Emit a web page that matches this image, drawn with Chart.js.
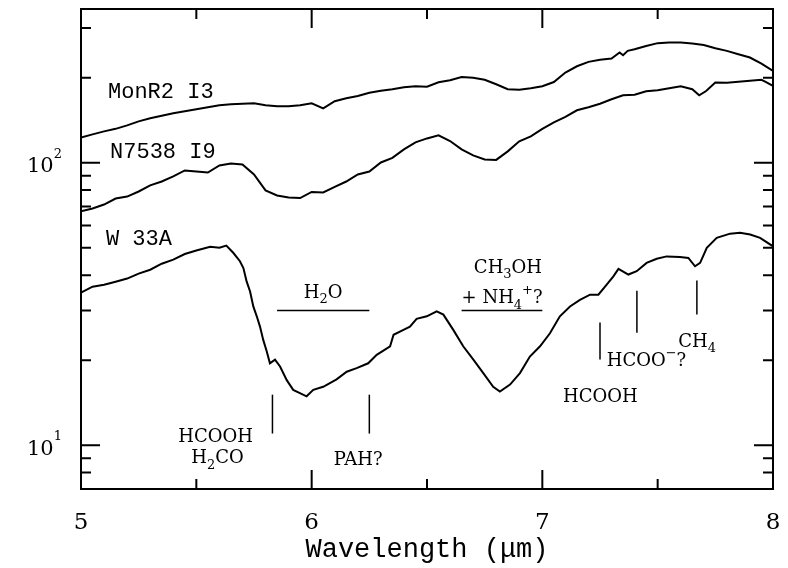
<!DOCTYPE html>
<html><head><meta charset="utf-8">
<script src="https://cdn.jsdelivr.net/npm/chart.js@4/dist/chart.umd.min.js"></script>
<style>html,body{margin:0;padding:0;background:#fff;}canvas{display:block;}</style>
</head><body>
<canvas id="c" width="788" height="568"></canvas>
<script>
// ---- data (wavelength in micron, flux) ----
const monLambda = [5.00,5.05,5.10,5.15,5.20,5.25,5.30,5.35,5.40,5.45,5.50,5.55,5.60,5.65,5.70,5.75,5.80,5.85,5.90,5.95,6.00,6.05,6.10,6.15,6.20,6.25,6.30,6.35,6.40,6.45,6.50,6.55,6.60,6.65,6.70,6.75,6.80,6.85,6.90,6.95,7.00,7.05,7.10,7.15,7.20,7.25,7.30,7.335,7.35,7.37,7.40,7.45,7.50,7.55,7.60,7.65,7.70,7.75,7.80,7.85,7.90,7.95,8.00];
const monFlux = [122.7,126,129.1,131.8,135.6,140.1,143.6,146.6,149.6,152,154.5,157.1,159.7,160.9,161.7,162.3,159.7,158.4,158.4,159.7,162.3,155.8,165,169.1,172.2,176.8,179.7,182,184.9,186.5,185.7,192.6,195.8,201.2,199.8,196.6,189.5,182,181.2,183.5,186.5,193,208.5,219.5,227.5,231.5,233.8,245.5,240.2,248.8,252,259,265,266.4,266.4,264,261,254.3,248.8,242.2,235.7,224.4,211.3];

const n7538Lambda = [5.00,5.05,5.10,5.15,5.20,5.25,5.30,5.35,5.40,5.45,5.50,5.55,5.60,5.65,5.70,5.75,5.80,5.85,5.90,5.95,6.00,6.05,6.10,6.15,6.20,6.25,6.30,6.35,6.40,6.45,6.50,6.55,6.60,6.65,6.70,6.75,6.80,6.85,6.90,6.95,7.00,7.05,7.10,7.15,7.20,7.25,7.30,7.35,7.40,7.45,7.50,7.55,7.60,7.65,7.68,7.71,7.75,7.80,7.85,7.90,7.95,7.97,8.00];
const n7538Flux = [67.3,68.9,71.1,74.7,75.9,79.1,83.1,85.8,89.4,93.9,93.1,92.3,97.8,99.4,98.6,90.9,79.8,76.6,75.3,75.0,78.8,78.5,82.1,85.8,90.9,93.1,100.2,104,111.5,118,121.9,125,119.3,111.5,106.1,102.7,102.3,109.7,119,124,131.8,139,145.4,153.3,157.1,161.7,167.7,173.3,174,179,180.5,183.5,186.5,182,173.3,179.4,192.2,191.9,193.5,195,196.6,193,186.9];

const w33aLambda = [5.00,5.05,5.10,5.15,5.20,5.25,5.30,5.35,5.40,5.45,5.50,5.56,5.60,5.63,5.66,5.689,5.704,5.718,5.733,5.747,5.762,5.776,5.790,5.805,5.819,5.841,5.863,5.892,5.920,5.949,5.978,6.007,6.05,6.108,6.152,6.195,6.245,6.282,6.340,6.355,6.398,6.426,6.455,6.499,6.542,6.571,6.614,6.657,6.701,6.744,6.787,6.816,6.860,6.903,6.946,6.990,7.033,7.076,7.120,7.163,7.207,7.243,7.279,7.308,7.330,7.373,7.409,7.452,7.496,7.539,7.597,7.633,7.662,7.684,7.713,7.756,7.814,7.857,7.901,7.944,8.00];
const w33aFlux = [34.7,36.4,37.0,37.9,38.9,40.5,41.8,43.9,45.4,47.5,48.9,50.4,50.0,50.9,48.0,44.8,42.4,38.0,35.0,31.0,28.6,26.3,23.6,21.5,19.5,20.1,19.0,17.0,15.7,15.3,14.9,15.7,16.1,17.1,18.2,18.75,19.5,20.9,22.4,24.6,25.6,26.3,28.0,28.6,29.8,29.0,25.6,22.4,20.1,18.0,16.1,15.5,16.4,18.0,20.6,22.4,24.9,28.6,31.0,32.7,34.1,34.1,37.0,39.6,42.1,40.2,41.3,44.2,45.7,46.6,46.4,46.0,43.0,44.2,50.0,54.2,56.1,56.5,55.7,54.2,50.6];

// ---- ticks ----
const xMajorTicks = [5, 6, 7, 8];
const xTickLabels = ['5', '6', '7', '8'];
const xMinorTicks = [5.5, 6.5, 7.5];
const yMajorTicks = [10, 100];
const yTickLabels = ['10^1', '10^2'];
const yMinorTicks = [8, 9, 20, 30, 40, 50, 60, 70, 80, 90, 200, 300];

// ---- annotation texts (anchored in data units) ----
const seriesLabels = ['MonR2 I3', 'N7538 I9', 'W 33A'];
const seriesLabelAt = [[5.117, 170], [5.126, 104.2], [5.108, 51.3]];
const featureTexts = ['H_2O', 'CH_3OH', '+ NH_4^+?', 'HCOOH', 'H_2CO', 'PAH?', 'HCOOH', 'HCOO^\u2212?', 'CH_4'];
const featureTextAt = [[6.05, 33.2], [6.851, 40.7], [6.65, 31.8], [5.584, 10.3], [5.592, 8.63], [6.202, 8.51], [7.252, 14.28], [7.279, 19.0], [7.589, 22.3]];
const featureTextAlign = ['center', 'center', 'left', 'center', 'center', 'center', 'center', 'left', 'left'];
const bandBars = [[5.85, 6.25, 30], [6.65, 7.0, 30]];           // horizontal: from, to, flux
const markerLines = [[5.83, 11, 15.1], [6.25, 11, 15.1], [7.25, 20.1, 27.2], [7.41, 25, 35.2], [7.67, 29, 38.3]]; // x, y0, y1

const toXY = (xs, ys) => xs.map((x, i) => ({x: x, y: ys[i]}));

function drawRich(ctx, str, x, y, size, family, align, scriptScale, supRaise) {
  scriptScale = scriptScale || 0.72;
  supRaise = supRaise || 0.5;
  const parts = [];
  for (let i = 0; i < str.length; i++) {
    const c = str[i];
    if (c === '_' || c === '^') { parts.push({t: str[i + 1], mode: c}); i++; }
    else if (parts.length && !parts[parts.length - 1].mode) parts[parts.length - 1].t += c;
    else parts.push({t: c, mode: null});
  }
  const fontFor = m => (m ? Math.round(size * scriptScale) : size) + 'px "' + family + '"';
  let w = 0;
  parts.forEach(p => { ctx.font = fontFor(p.mode); p.w = ctx.measureText(p.t).width; w += p.w; });
  let cx = align === 'center' ? x - w / 2 : (align === 'right' ? x - w : x);
  ctx.textAlign = 'left'; ctx.textBaseline = 'alphabetic';
  parts.forEach(p => {
    ctx.font = fontFor(p.mode);
    const dy = p.mode === '_' ? size * 0.3 : (p.mode === '^' ? -size * supRaise : 0);
    ctx.fillText(p.t, cx, y + dy);
    cx += p.w;
  });
}

const framePlugin = {
  id: 'frame',
  afterDraw(chart) {
    const {ctx, chartArea: a, scales: {x, y}} = chart;
    ctx.save();
    ctx.strokeStyle = '#000'; ctx.fillStyle = '#000';
    ctx.lineWidth = 2;
    ctx.strokeRect(a.left, a.top, a.right - a.left, a.bottom - a.top);
    const tick = (len, vals, horiz) => {
      vals.forEach(v => {
        ctx.beginPath();
        if (horiz) {
          const px = x.getPixelForValue(v);
          ctx.moveTo(px, a.bottom); ctx.lineTo(px, a.bottom - len);
          ctx.moveTo(px, a.top); ctx.lineTo(px, a.top + len);
        } else {
          const py = y.getPixelForValue(v);
          ctx.moveTo(a.left, py); ctx.lineTo(a.left + len, py);
          ctx.moveTo(a.right, py); ctx.lineTo(a.right - len, py);
        }
        ctx.stroke();
      });
    };
    tick(19, xMajorTicks, true); tick(10, xMinorTicks, true);
    tick(19, yMajorTicks, false); tick(10, yMinorTicks, false);

    // tick labels
    ctx.font = '23px "DejaVu Serif"';
    ctx.textAlign = 'center'; ctx.textBaseline = 'alphabetic';
    xMajorTicks.forEach((v, i) => ctx.fillText(xTickLabels[i], x.getPixelForValue(v), a.bottom + 39.5));
    yMajorTicks.forEach((v, i) => {
      drawRich(ctx, yTickLabels[i], a.left - 19, y.getPixelForValue(v) + 9.5, 21, 'DejaVu Serif', 'right', 0.62, 0.68);
    });

    ctx.lineWidth = 1.5;
    bandBars.forEach(b => {
      const yy = y.getPixelForValue(b[2]);
      ctx.beginPath(); ctx.moveTo(x.getPixelForValue(b[0]), yy); ctx.lineTo(x.getPixelForValue(b[1]), yy); ctx.stroke();
    });
    markerLines.forEach(m => {
      const xx = x.getPixelForValue(m[0]);
      ctx.beginPath(); ctx.moveTo(xx, y.getPixelForValue(m[1])); ctx.lineTo(xx, y.getPixelForValue(m[2])); ctx.stroke();
    });
    seriesLabels.forEach((t, i) => {
      drawRich(ctx, t, x.getPixelForValue(seriesLabelAt[i][0]), y.getPixelForValue(seriesLabelAt[i][1]), 22, 'Liberation Mono', 'left');
    });
    featureTexts.forEach((t, i) => {
      drawRich(ctx, t, x.getPixelForValue(featureTextAt[i][0]), y.getPixelForValue(featureTextAt[i][1]), 18, 'DejaVu Serif', featureTextAlign[i]);
    });
    ctx.restore();
  }
};

const lineStyle = {borderColor: '#000', borderWidth: 2, pointRadius: 0, fill: false, tension: 0};
new Chart(document.getElementById('c'), {
  type: 'line',
  data: {datasets: [
    Object.assign({label: seriesLabels[0], data: toXY(monLambda, monFlux)}, lineStyle),
    Object.assign({label: seriesLabels[1], data: toXY(n7538Lambda, n7538Flux)}, lineStyle),
    Object.assign({label: seriesLabels[2], data: toXY(w33aLambda, w33aFlux)}, lineStyle)
  ]},
  options: {
    responsive: false, animation: false, devicePixelRatio: 1,
    layout: {padding: {left: 0, right: 15, top: 9, bottom: 0}},
    plugins: {legend: {display: false}, tooltip: {enabled: false}},
    scales: {
      x: {
        type: 'linear', min: 5, max: 8, position: 'bottom',
        afterFit(s) { s.height = 79; },
        afterBuildTicks(s) { s.ticks = xMajorTicks.map(v => ({value: v})); },
        ticks: {display: false},
        grid: {display: false, drawTicks: false}, border: {display: false},
        title: {display: true, text: 'Wavelength (\u03bcm)', font: {family: 'Liberation Mono', size: 27}, color: '#000', padding: {top: 0, bottom: 2}}
      },
      y: {
        type: 'logarithmic', min: 7, max: 350,
        afterFit(s) { s.width = 81; },
        afterBuildTicks(s) { s.ticks = yMajorTicks.map(v => ({value: v, major: true})); },
        ticks: {display: false},
        grid: {display: false, drawTicks: false}, border: {display: false}
      }
    }
  },
  plugins: [framePlugin]
});
</script>
</body></html>
